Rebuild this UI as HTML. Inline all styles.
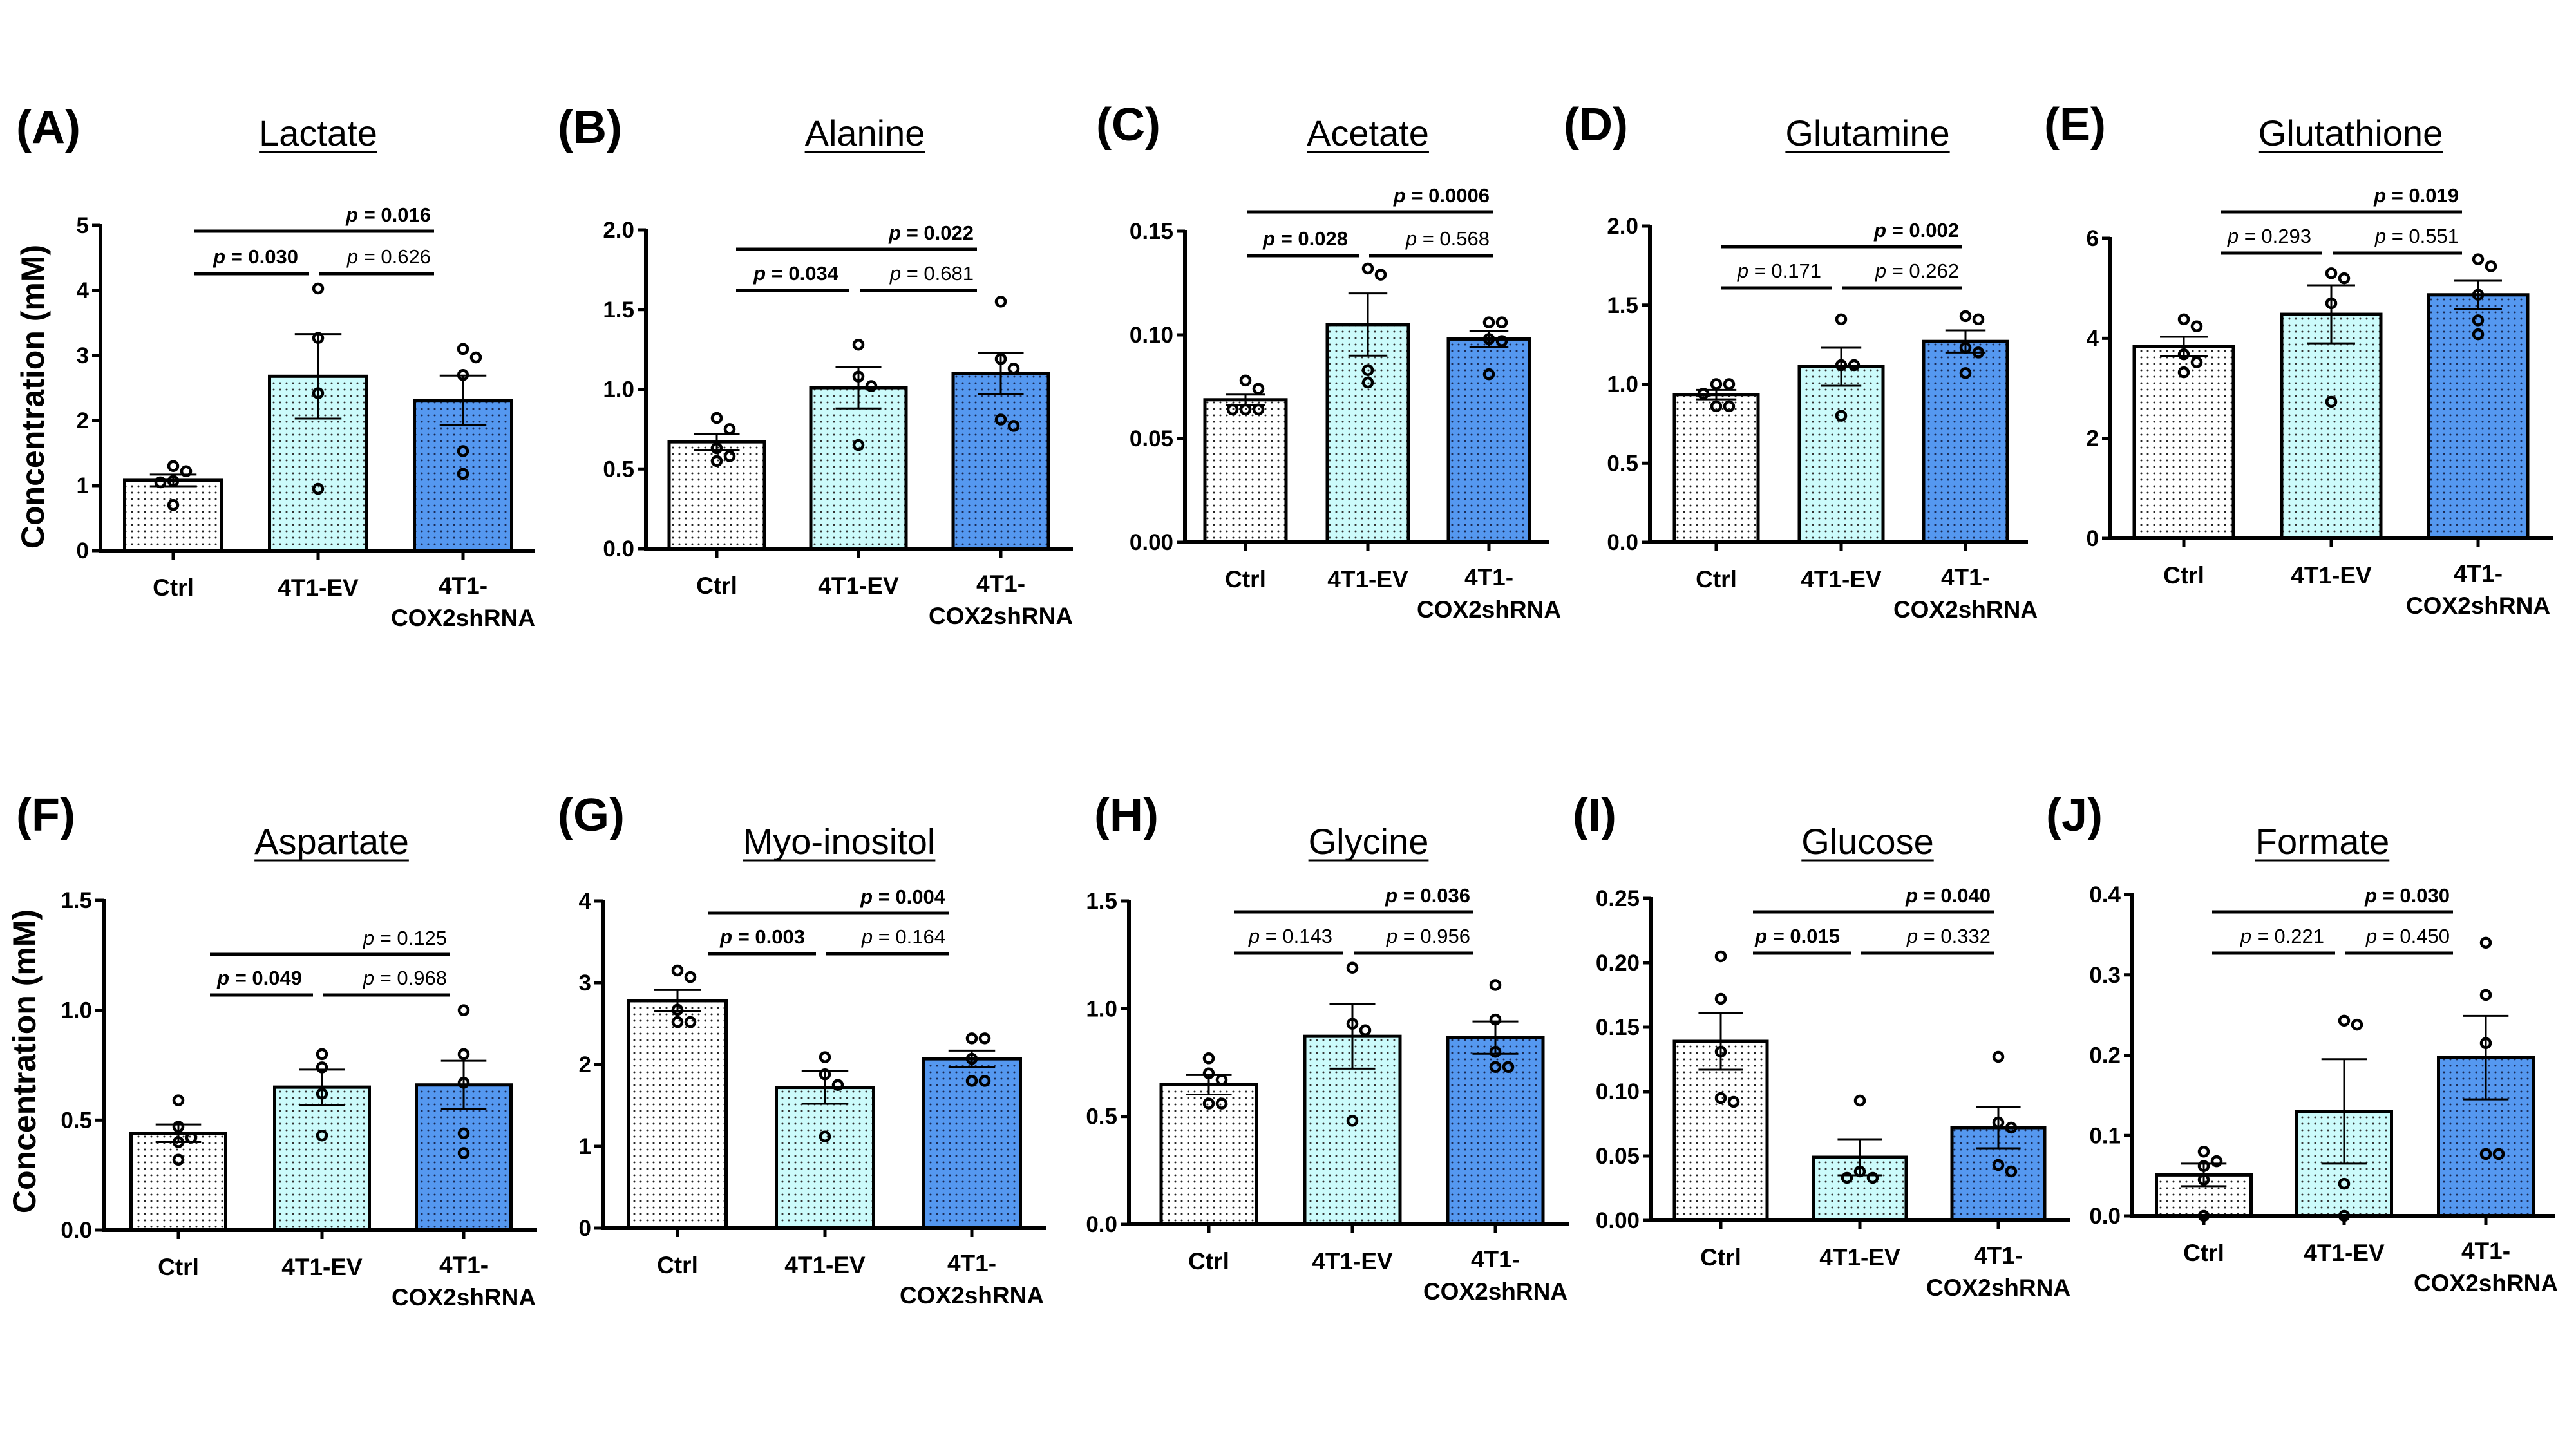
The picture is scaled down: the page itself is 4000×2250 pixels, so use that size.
<!DOCTYPE html>
<html><head><meta charset="utf-8"><style>
html,body{margin:0;padding:0;background:#fff}
svg{display:block}
text{font-family:"Liberation Sans",Arial,sans-serif}
</style></head><body>
<svg id="fig" xmlns="http://www.w3.org/2000/svg" width="4000" height="2250" viewBox="0 0 4000 2250">
<defs>
<pattern id="dotW" width="10" height="10" patternUnits="userSpaceOnUse"><rect width="10" height="10" fill="#ffffff"/><circle cx="5" cy="5" r="1.5" fill="#222"/></pattern>
<pattern id="dotC" width="10" height="10" patternUnits="userSpaceOnUse"><rect width="10" height="10" fill="#ccfbfb"/><circle cx="5" cy="5" r="1.5" fill="#333"/></pattern>
<pattern id="dotB" width="10" height="10" patternUnits="userSpaceOnUse"><rect width="10" height="10" fill="#5598f0"/><circle cx="5" cy="5" r="1.5" fill="#1a2a55"/></pattern>
</defs>
</svg>
<script>
const categories = ["Ctrl", "4T1-EV", "4T1-COX2shRNA"];

const lactateMean = [1.08, 2.68, 2.31];
const lactateSem = [0.09, 0.65, 0.38];
const lactatePts = [[1.30,1.22,1.07,1.05,0.70],[4.03,3.27,2.42,0.95],[3.10,2.97,2.70,1.53,1.18]];
const lactateTicks = [0,1,2,3,4,5];
const lactateP = [0.016, 0.030, 0.626];

const alanineMean = [0.67, 1.01, 1.10];
const alanineSem = [0.05, 0.13, 0.13];
const alaninePts = [[0.82,0.75,0.63,0.58,0.55],[1.28,1.08,1.02,0.65],[1.55,1.19,1.13,0.81,0.77]];
const alanineTicks = [0,0.5,1.0,1.5,2.0];
const alanineP = [0.022, 0.034, 0.681];

const acetateMean = [0.0687, 0.105, 0.098];
const acetateSem = [0.0025, 0.015, 0.004];
const acetatePts = [[0.078,0.074,0.064,0.064,0.064],[0.132,0.129,0.083,0.077],[0.106,0.106,0.098,0.097,0.081]];
const acetateTicks = [0,0.05,0.10,0.15];
const acetateP = [0.0006, 0.028, 0.568];

const glutamineMean = [0.934, 1.11, 1.27];
const glutamineSem = [0.03, 0.12, 0.07];
const glutaminePts = [[1.00,1.00,0.94,0.86,0.86],[1.41,1.12,1.12,0.80],[1.43,1.41,1.23,1.20,1.07]];
const glutamineTicks = [0,0.5,1.0,1.5,2.0];
const glutamineP = [0.002, 0.171, 0.262];

const glutathioneMean = [3.84, 4.48, 4.87];
const glutathioneSem = [0.19, 0.58, 0.28];
const glutathionePts = [[4.38,4.24,3.68,3.52,3.32],[5.30,5.20,4.70,2.73],[5.58,5.44,4.87,4.36,4.08]];
const glutathioneTicks = [0,2,4,6];
const glutathioneP = [0.019, 0.293, 0.551];

const aspartateMean = [0.44, 0.65, 0.66];
const aspartateSem = [0.04, 0.08, 0.11];
const aspartatePts = [[0.59,0.47,0.42,0.40,0.32],[0.80,0.74,0.62,0.43],[1.00,0.80,0.67,0.44,0.35]];
const aspartateTicks = [0,0.5,1.0,1.5];
const aspartateP = [0.125, 0.049, 0.968];

const inositolMean = [2.78, 1.72, 2.07];
const inositolSem = [0.13, 0.20, 0.10];
const inositolPts = [[3.15,3.07,2.67,2.52,2.52],[2.09,1.88,1.75,1.12],[2.32,2.32,2.07,1.80,1.80]];
const inositolTicks = [0,1,2,3,4];
const inositolP = [0.004, 0.003, 0.164];

const glycineMean = [0.647, 0.872, 0.866];
const glycineSem = [0.045, 0.15, 0.075];
const glycinePts = [[0.77,0.70,0.67,0.56,0.56],[1.19,0.93,0.90,0.48],[1.11,0.95,0.80,0.73,0.73]];
const glycineTicks = [0,0.5,1.0,1.5];
const glycineP = [0.036, 0.143, 0.956];

const glucoseMean = [0.139, 0.049, 0.072];
const glucoseSem = [0.022, 0.014, 0.016];
const glucosePts = [[0.205,0.172,0.131,0.095,0.092],[0.093,0.038,0.033,0.033],[0.127,0.076,0.072,0.043,0.038]];
const glucoseTicks = [0,0.05,0.10,0.15,0.20,0.25];
const glucoseP = [0.040, 0.015, 0.332];

const formateMean = [0.051, 0.130, 0.197];
const formateSem = [0.014, 0.065, 0.052];
const formatePts = [[0.080,0.068,0.062,0.045,0.0],[0.243,0.238,0.040,0.0],[0.340,0.275,0.215,0.077,0.077]];
const formateTicks = [0,0.1,0.2,0.3,0.4];
const formateP = [0.030, 0.221, 0.450];

// layout (pixel geometry, not data)
const layout = [
 {key:"lactate",title:"Lactate",label:"(A)",ax:156,axEnd:831,y0:855,yTop:350,bw:151,c:[269,494,719],pT:359,pL:425,p1:301,p2:674,lx:25,ly:222,tx:494,ty:226,dec:0,ylab:55,ylabY:616},
 {key:"alanine",title:"Alanine",label:"(B)",ax:1003,axEnd:1666,y0:852,yTop:357,bw:148,c:[1113,1333,1554],pT:387,pL:451,p1:1143,p2:1517,lx:866,ly:222,tx:1343,ty:226,dec:1},
 {key:"acetate",title:"Acetate",label:"(C)",ax:1840,axEnd:2406,y0:842,yTop:359,bw:126,c:[1934,2124,2312],pT:329,pL:397,p1:1937,p2:2318,lx:1702,ly:218,tx:2124,ty:226,dec:2},
 {key:"glutamine",title:"Glutamine",label:"(D)",ax:2562,axEnd:3149,y0:842,yTop:351,bw:130,c:[2665,2859,3052],pT:383,pL:447,p1:2673,p2:3047,lx:2428,ly:218,tx:2900,ty:226,dec:1},
 {key:"glutathione",title:"Glutathione",label:"(E)",ax:3277,axEnd:3965,y0:836,yTop:370,bw:154,c:[3391,3620,3848],pT:329,pL:393,p1:3449,p2:3823,lx:3174,ly:218,tx:3650,ty:226,dec:0},
 {key:"aspartate",title:"Aspartate",label:"(F)",ax:161,axEnd:834,y0:1910,yTop:1398,bw:147,c:[277,500,720],pT:1482,pL:1545,p1:326,p2:699,lx:25,ly:1290,tx:515,ty:1326,dec:1,ylab:42,ylabY:1648},
 {key:"inositol",title:"Myo-inositol",label:"(G)",ax:936,axEnd:1624,y0:1907,yTop:1399,bw:151,c:[1052,1281,1509],pT:1418,pL:1481,p1:1100,p2:1473,lx:866,ly:1290,tx:1303,ty:1326,dec:0},
 {key:"glycine",title:"Glycine",label:"(H)",ax:1753,axEnd:2436,y0:1901,yTop:1399,bw:148,c:[1877,2100,2322],pT:1416,pL:1480,p1:1916,p2:2288,lx:1699,ly:1290,tx:2125,ty:1326,dec:1},
 {key:"glucose",title:"Glucose",label:"(I)",ax:2564,axEnd:3214,y0:1895,yTop:1395,bw:144,c:[2672,2888,3103],pT:1416,pL:1480,p1:2722,p2:3096,lx:2442,ly:1290,tx:2900,ty:1326,dec:2},
 {key:"formate",title:"Formate",label:"(J)",ax:3311,axEnd:3968,y0:1888,yTop:1389,bw:147,c:[3422,3640,3860],pT:1416,pL:1480,p1:3435,p2:3809,lx:3177,ly:1290,tx:3606,ty:1326,dec:1}
];
const dataMap = {
 lactate:[lactateMean,lactateSem,lactatePts,lactateTicks,lactateP],
 alanine:[alanineMean,alanineSem,alaninePts,alanineTicks,alanineP],
 acetate:[acetateMean,acetateSem,acetatePts,acetateTicks,acetateP],
 glutamine:[glutamineMean,glutamineSem,glutaminePts,glutamineTicks,glutamineP],
 glutathione:[glutathioneMean,glutathioneSem,glutathionePts,glutathioneTicks,glutathioneP],
 aspartate:[aspartateMean,aspartateSem,aspartatePts,aspartateTicks,aspartateP],
 inositol:[inositolMean,inositolSem,inositolPts,inositolTicks,inositolP],
 glycine:[glycineMean,glycineSem,glycinePts,glycineTicks,glycineP],
 glucose:[glucoseMean,glucoseSem,glucosePts,glucoseTicks,glucoseP],
 formate:[formateMean,formateSem,formatePts,formateTicks,formateP]
};
const fills = ["url(#dotW)","url(#dotC)","url(#dotB)"];
const NS = "http://www.w3.org/2000/svg";
const svg = document.getElementById("fig");

function mk(tag, attrs, parent){
  const el = document.createElementNS(NS, tag);
  for (const k in attrs) el.setAttribute(k, attrs[k]);
  parent.appendChild(el);
  return el;
}
function fmtP(v){
  const s = String(v);
  return s.startsWith("0.") && s.length < 5 ? v.toFixed(3) : s;
}
function pText(g, v, x, y){
  const bold = v < 0.05;
  const t = mk("text", {x:x, y:y, "text-anchor":"end", "font-size":31, "font-weight":bold?"bold":"normal", fill:"#000"}, g);
  
  
  const ts = mk("tspan", {"font-style":"italic"}, t); ts.textContent = "p";
  const ts2 = mk("tspan", {}, t); ts2.textContent = " = " + fmtP(v);
}

layout.forEach(L => {
  const [mean, sem, pts, ticks, pv] = dataMap[L.key];
  const yMax = ticks[ticks.length-1];
  const yS = v => L.y0 - (v / yMax) * (L.y0 - L.yTop);
  const g = mk("g", {}, svg);
  
  

  const lab = mk("text", {x:L.lx, y:L.ly, "font-size":72, "font-weight":"bold"}, g);
  
  
  lab.textContent = L.label;

  const tt = mk("text", {x:L.tx, y:L.ty, "font-size":56, "text-anchor":"middle"}, g);
  
  
  tt.textContent = L.title;
  const tw = L.title.length * 29;
  const ul = mk("line", {x1:L.tx - tw/2, x2:L.tx + tw/2, y1:L.ty+10, y2:L.ty+10, stroke:"#000","stroke-width":3}, g);
  
  
  try { const bb = tt.getBBox(); ul.setAttribute("x1", bb.x); ul.setAttribute("x2", bb.x + bb.width); } catch(e){}

  if (L.ylab){
    const cy = L.ylabY;
    const yl = mk("text", {x:L.ylab, y:cy, "font-size":50, "font-weight":"bold", "text-anchor":"middle", "dominant-baseline":"middle", transform:`rotate(-90 ${L.ylab} ${cy})`}, g);
    
    
    yl.textContent = "Concentration (mM)";
  }

  mean.forEach((m, i) => {
    const r = mk("rect", {x:L.c[i]-L.bw/2, y:yS(m), width:L.bw, height:L.y0 - yS(m), fill:fills[i], stroke:"#000", "stroke-width":5}, g);
    
    
  });
  mean.forEach((m, i) => {
    const cx = L.c[i], hw = L.bw * 0.24;
    const eg = mk("g", {stroke:"#000","stroke-width":3}, g);
    
    
    mk("line", {x1:cx, x2:cx, y1:yS(m - sem[i]), y2:yS(m + sem[i])}, eg);
    mk("line", {x1:cx-hw, x2:cx+hw, y1:yS(m + sem[i]), y2:yS(m + sem[i])}, eg);
    mk("line", {x1:cx-hw, x2:cx+hw, y1:yS(m - sem[i]), y2:yS(m - sem[i])}, eg);
  });
  pts.forEach((arr, i) => {
    const placed = [];
    arr.forEach(v => {
      const py = yS(v);
      const cands = [0, 20, -20, 40, -40];
      let dx = 0;
      for (const c of cands){
        if (placed.every(p => Math.hypot(p[0]-c, p[1]-py) >= 19)) { dx = c; break; }
      }
      placed.push([dx, py]);
      const ci = mk("circle", {cx:L.c[i]+dx, cy:py, r:7, fill:"none", stroke:"#000", "stroke-width":4.5}, g);
      
      
    });
  });
  const ya = mk("line", {x1:L.ax, x2:L.ax, y1:L.yTop-2, y2:L.y0+3, stroke:"#000","stroke-width":6}, g);
  
  
  const xa = mk("line", {x1:L.ax-3, x2:L.axEnd, y1:L.y0, y2:L.y0, stroke:"#000","stroke-width":6}, g);
  
  
  ticks.forEach(t => {
    const y = yS(t);
    mk("line", {x1:L.ax-13, x2:L.ax, y1:y, y2:y, stroke:"#000","stroke-width":5}, g);
    const tl = mk("text", {x:L.ax-18, y:y+12, "font-size":35, "font-weight":"bold", "text-anchor":"end"}, g);
    
    
    tl.textContent = t.toFixed(L.dec);
  });
  categories.forEach((cat, i) => {
    mk("line", {x1:L.c[i], x2:L.c[i], y1:L.y0, y2:L.y0+14, stroke:"#000","stroke-width":5}, g);
    const xl = mk("text", {x:L.c[i], y:L.y0+70, "font-size":37, "font-weight":"bold", "text-anchor":"middle"}, g);
    
    
    if (cat === "4T1-COX2shRNA"){
      mk("tspan", {x:L.c[i], y:L.y0+67}, xl).textContent = "4T1-";
      mk("tspan", {x:L.c[i], y:L.y0+117}, xl).textContent = "COX2shRNA";
    } else xl.textContent = cat;
  });
  const mid = L.c[1] - 6;
  const sg = mk("g", {stroke:"#000","stroke-width":5}, g);
  
  
  mk("line", {x1:L.p1, x2:L.p2, y1:L.pT, y2:L.pT}, sg);
  mk("line", {x1:L.p1, x2:mid-8, y1:L.pL, y2:L.pL}, sg);
  mk("line", {x1:mid+8, x2:L.p2, y1:L.pL, y2:L.pL}, sg);
  pText(g, pv[0], L.p2-5, L.pT-15);
  pText(g, pv[1], mid-25, L.pL-16);
  pText(g, pv[2], L.p2-5, L.pL-16);
});
</script>
</body></html>
